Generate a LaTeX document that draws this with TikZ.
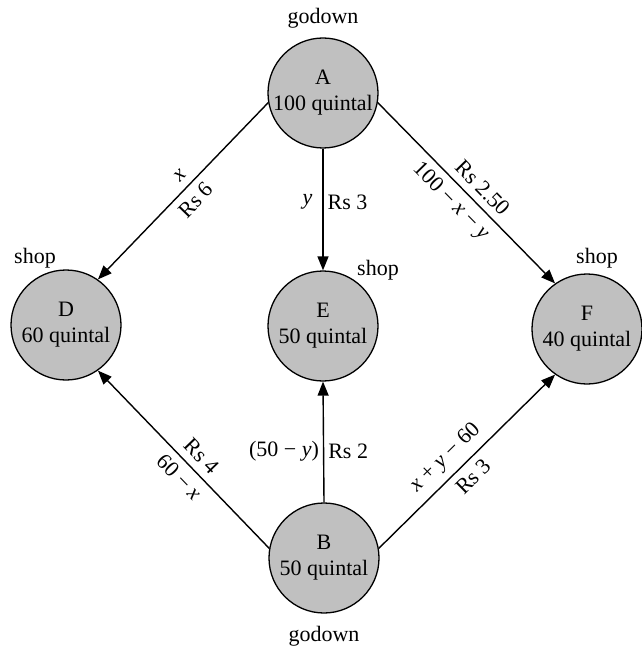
\documentclass[tikz,border=0pt]{standalone}
\usepackage{fontspec}
\setmainfont{Liberation Serif}
\usetikzlibrary{arrows.meta}
\definecolor{circlegray}{RGB}{192,192,192}
\begin{document}
\begin{tikzpicture}[x=1pt,y=-1pt,
  place/.style={circle, draw=black, line width=1.3pt, fill=circlegray, minimum size=110pt, inner sep=0pt, align=center, font=\fontsize{22}{26}\selectfont},
  flow/.style={line width=1.4pt, -{Triangle[length=14pt,width=11pt]}},
  lbl/.style={font=\fontsize{22}{26}\selectfont, inner sep=3pt},
  slbl/.style={font=\fontsize{22}{26}\selectfont, inner sep=7pt, sloped},
  tag/.style={font=\fontsize{22}{26}\selectfont, inner sep=0pt}]
\useasboundingbox[fill=white] (0,0) rectangle (641,647);

\node[place] (A) at (323,93) {A\\100 quintal};
\node[place] (D) at (66,325) {D\\60 quintal};
\node[place] (E) at (323,326) {E\\50 quintal};
\node[place] (F) at (587,329) {F\\40 quintal};
\node[place] (B) at (324,558) {B\\50 quintal};

\node[tag] (gA) at (323,18) {godown};
\node[tag] (gB) at (324,636) {godown};
\node[tag] (sD) at (35,258) {shop};
\node[tag] (sE) at (378,270) {shop};
\node[tag] (sF) at (597,258) {shop};

\draw[flow] (A.190) -- (D.55)
  node[slbl, pos=0.46, above] {\textit{x}}
  node[slbl, pos=0.49, below] {Rs 6};
\draw[flow] (A.south) -- (E.north)
  node[lbl, pos=0.44, left, inner sep=10pt] {\textit{y}}
  node[lbl, pos=0.44, right, inner sep=4pt] {Rs 3};
\draw[flow] (A.-10) -- (F.125)
  node[slbl, pos=0.53, above] {Rs 2.50}
  node[slbl, pos=0.48, below] {100 − \textit{x} − \textit{y}};
\draw[flow] (B.170) -- (D.-55)
  node[slbl, pos=0.46, above] {Rs 4}
  node[slbl, pos=0.46, below] {60 − \textit{x}};
\draw[flow] (B.north) -- (E.south)
  node[lbl, pos=0.42, left, inner sep=4pt] {(50 − \textit{y})}
  node[lbl, pos=0.42, right, inner sep=4pt] {Rs 2};
\draw[flow] (B.10) -- (F.-125)
  node[slbl, pos=0.45, above] {\textit{x} + \textit{y} − 60}
  node[slbl, pos=0.475, below] {Rs 3};
\end{tikzpicture}
\end{document}
